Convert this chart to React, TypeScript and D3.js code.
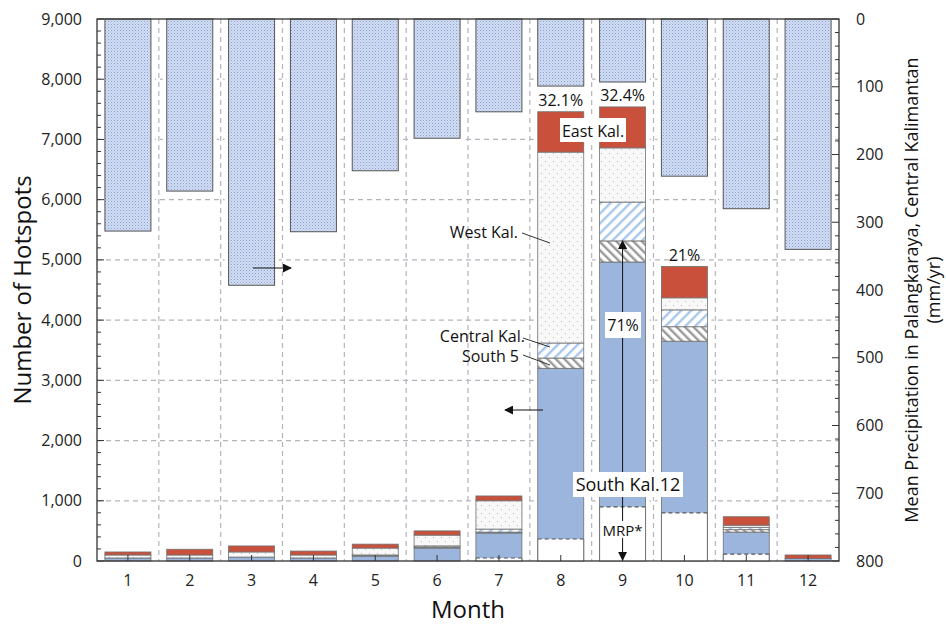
import React from "react";
import * as d3 from "d3";

const months = [1, 2, 3, 4, 5, 6, 7, 8, 9, 10, 11, 12];
const precipitation = [313, 254, 393, 314, 224, 176, 137, 99, 93, 232, 280, 340];
const southKal = [50, 50, 65, 50, 80, 215, 465, 3200, 4965, 3650, 480, 40];
const mrp = [0, 0, 0, 0, 0, 0, 50, 365, 900, 800, 115, 0];
const south5 = [0, 0, 0, 0, 10, 15, 15, 170, 350, 240, 40, 0];
const centralKal = [0, 0, 0, 0, 10, 20, 50, 250, 645, 280, 40, 0];
const westKal = [50, 50, 85, 50, 115, 180, 470, 3170, 900, 200, 35, 0];
const eastKal = [50, 95, 100, 65, 65, 70, 80, 670, 680, 520, 140, 60];
const leftTicks = [0, 1000, 2000, 3000, 4000, 5000, 6000, 7000, 8000, 9000];
const rightTicks = [0, 100, 200, 300, 400, 500, 600, 700, 800];
const pctLabels = [
  { month: 8, text: "32.1%" },
  { month: 9, text: "32.4%" },
  { month: 10, text: "21%" },
];

const W = 946, H = 626;
const L = 97, R = 839, T = 19, B = 561;
const FONT = "'Open Sans', sans-serif";

const keys = ["south", "south5", "central", "west", "east"];
const fills: Record<string, string> = {
  south: "#9bb5dd",
  south5: "url(#patS5)",
  central: "url(#patCen)",
  west: "url(#patWest)",
  east: "#c9503b",
};

export default function App() {
  const x = d3.scaleBand<number>().domain(months).range([L, R]).paddingInner(0.256).paddingOuter(0.128);
  const yH = d3.scaleLinear().domain([0, 9000]).range([B, T]);
  const yP = d3.scaleLinear().domain([0, 800]).range([T, B]);
  const rows = months.map((m, i) => ({
    month: m,
    south: southKal[i],
    south5: south5[i],
    central: centralKal[i],
    west: westKal[i],
    east: eastKal[i],
  }));
  const series = d3.stack<any>().keys(keys)(rows);
  const bw = x.bandwidth();
  const step = x.step();
  const cx = (m: number) => (x(m) as number) + bw / 2;
  const totals = months.map((_, i) => southKal[i] + south5[i] + centralKal[i] + westKal[i] + eastKal[i]);
  const halo = 4;

  const leftMinor = d3.range(0, 9001, 200);
  const rightMinor = d3.range(0, 801, 20);

  const x9 = cx(9);

  return (
    <svg width={W} height={H} style={{ position: "absolute", left: 0, top: 0, background: "#fff" }} fontFamily={FONT}>
      <defs>
        <pattern id="patPrec" width="3" height="3" patternUnits="userSpaceOnUse">
          <rect width="3" height="3" fill="#d3ddf2" />
          <rect x="0" y="0" width="1" height="1" fill="#869fd8" />
          <rect x="1.5" y="1.5" width="1" height="1" fill="#a2b7e4" />
        </pattern>
        <pattern id="patWest" width="8" height="8" patternUnits="userSpaceOnUse">
          <rect width="8" height="8" fill="#f8f8f8" />
          <rect x="1" y="1" width="1" height="1" fill="#b8b8b8" />
          <rect x="5" y="5" width="1" height="1" fill="#b8b8b8" />
        </pattern>
        <pattern id="patCen" width="7" height="7" patternUnits="userSpaceOnUse" patternTransform="rotate(45)">
          <rect width="7" height="7" fill="#ffffff" />
          <rect x="0" y="0" width="2.4" height="7" fill="#a8c7ea" />
        </pattern>
        <pattern id="patS5" width="6" height="6" patternUnits="userSpaceOnUse" patternTransform="rotate(-45)">
          <rect width="6" height="6" fill="#ffffff" />
          <rect x="0" y="0" width="2.4" height="6" fill="#9a9a9a" />
        </pattern>
        <marker id="arr" viewBox="0 0 10 10" refX="9" refY="5" markerWidth="9" markerHeight="9" markerUnits="userSpaceOnUse" orient="auto-start-reverse">
          <path d="M0,0 L10,5 L0,10 z" fill="#111" />
        </marker>
      </defs>

      {/* grid */}
      {leftTicks.filter((t) => t > 0 && t < 9000).map((t) => (
        <line key={"gh" + t} x1={L} x2={R} y1={yH(t)} y2={yH(t)} stroke="#b4b4bc" strokeDasharray="5,4" strokeWidth={1.2} />
      ))}
      {months.slice(1).map((m, i) => (
        <line key={"gv" + m} x1={L + step * (i + 1)} x2={L + step * (i + 1)} y1={T} y2={B} stroke="#b4b4bc" strokeDasharray="5,4" strokeWidth={1.2} />
      ))}

      {/* halos */}
      {months.map((m, i) => (
        <g key={"halo" + m}>
          <rect x={(x(m) as number) - halo} y={T} width={bw + 2 * halo} height={yP(precipitation[i]) - T + halo} fill="#fff" />
          <rect x={(x(m) as number) - halo} y={yH(totals[i]) - halo} width={bw + 2 * halo} height={B - yH(totals[i]) + halo} fill="#fff" />
        </g>
      ))}

      {/* precipitation bars */}
      {months.map((m, i) => (
        <rect key={"p" + m} x={x(m)} y={T} width={bw} height={yP(precipitation[i]) - T} fill="url(#patPrec)" stroke="#555" strokeWidth={1} />
      ))}

      {/* hotspot stacks */}
      {series.map((s) => (
        <g key={s.key}>
          {s.map((d, i) =>
            d[1] - d[0] > 0 ? (
              <rect key={i} x={x(months[i])} y={yH(d[1])} width={bw} height={yH(d[0]) - yH(d[1])} fill={fills[s.key]} stroke="#707070" strokeWidth={0.8} />
            ) : null
          )}
        </g>
      ))}
      {/* MRP portion */}
      {months.map((m, i) =>
        mrp[i] > 0 ? (
          <g key={"mrp" + m}>
            <rect x={(x(m) as number) + 0.5} y={yH(mrp[i])} width={bw - 1} height={yH(0) - yH(mrp[i])} fill="#fff" />
            <line x1={x(m)} x2={(x(m) as number) + bw} y1={yH(mrp[i])} y2={yH(mrp[i])} stroke="#555" strokeDasharray="4,3" strokeWidth={1.2} />
            <line x1={x(m)} x2={x(m)} y1={yH(mrp[i])} y2={B} stroke="#707070" strokeWidth={0.8} />
            <line x1={(x(m) as number) + bw} x2={(x(m) as number) + bw} y1={yH(mrp[i])} y2={B} stroke="#707070" strokeWidth={0.8} />
          </g>
        ) : null
      )}

      {/* frame */}
      <rect x={L} y={T} width={R - L} height={B - T} fill="none" stroke="#333" strokeWidth={1.3} />

      {/* left axis */}
      {leftMinor.map((t) => (
        <line key={"lt" + t} x1={L} x2={L + (t % 1000 === 0 ? 7 : 4)} y1={yH(t)} y2={yH(t)} stroke="#333" strokeWidth={1} />
      ))}
      {leftTicks.map((t) => (
        <text key={"ll" + t} x={82} y={yH(t)} dy="0.35em" textAnchor="end" fontSize={16} fill="#222">
          {d3.format(",")(t)}
        </text>
      ))}
      {/* right axis */}
      {rightMinor.map((t) => (
        <line key={"rt" + t} x1={R} x2={R - (t % 100 === 0 ? 7 : 4)} y1={yP(t)} y2={yP(t)} stroke="#333" strokeWidth={1} />
      ))}
      {rightTicks.map((t) => (
        <text key={"rl" + t} x={856} y={yP(t)} dy="0.35em" textAnchor="start" fontSize={16} fill="#222">
          {t}
        </text>
      ))}
      {/* bottom axis */}
      {months.map((m) => (
        <g key={"bt" + m}>
          <line x1={cx(m)} x2={cx(m)} y1={B} y2={B - 6} stroke="#333" strokeWidth={1} />
          <text x={cx(m)} y={586} textAnchor="middle" fontSize={16} fill="#222">
            {m}
          </text>
        </g>
      ))}

      {/* titles */}
      <text transform={`translate(31,${(T + B) / 2}) rotate(-90)`} textAnchor="middle" fontSize={24} fill="#111">
        Number of Hotspots
      </text>
      <text x={(L + R) / 2} y={618} textAnchor="middle" fontSize={24} fill="#111">
        Month
      </text>
      <text transform={`translate(918,${(T + B) / 2}) rotate(-90)`} textAnchor="middle" fontSize={18} fill="#111">
        Mean Precipitation in Palangkaraya, Central Kalimantan
      </text>
      <text transform={`translate(940,${(T + B) / 2}) rotate(-90)`} textAnchor="middle" fontSize={18} fill="#111">
        (mm/yr)
      </text>

      {/* percentage labels */}
      {pctLabels.map((p) => {
        const i = months.indexOf(p.month);
        return (
          <text key={"pct" + p.month} x={cx(p.month)} y={yH(totals[i]) - 6} textAnchor="middle" fontSize={16} fill="#111">
            {p.text}
          </text>
        );
      })}

      {/* East Kal. label */}
      <rect x={560} y={118} width={66} height={24} fill="#fff" />
      <text x={593} y={137} textAnchor="middle" fontSize={16} fill="#111">East Kal.</text>

      {/* West / Central / South 5 labels */}
      <text x={518} y={238} textAnchor="end" fontSize={16} fill="#111">West Kal.</text>
      <line x1={522} y1={233} x2={550} y2={243} stroke="#333" strokeWidth={1} />
      <text x={525} y={342} textAnchor="end" fontSize={16} fill="#111">Central Kal.</text>
      <line x1={523} y1={338} x2={550} y2={347} stroke="#333" strokeWidth={1} />
      <text x={519} y={362} textAnchor="end" fontSize={16} fill="#111">South 5</text>
      <line x1={523} y1={355} x2={550} y2={365} stroke="#333" strokeWidth={1} />

      {/* precipitation arrows */}
      <line x1={253} y1={268} x2={291} y2={268} stroke="#111" strokeWidth={1} markerEnd="url(#arr)" />
      <line x1={543} y1={410} x2={505} y2={410} stroke="#111" strokeWidth={1} markerEnd="url(#arr)" />

      {/* month 9 vertical arrow */}
      <line x1={x9} y1={yH(southKal[8] + south5[8])} x2={x9} y2={B - 1} stroke="#111" strokeWidth={1} markerStart="url(#arr)" markerEnd="url(#arr)" />
      <rect x={605} y={312} width={36} height={26} fill="#fff" />
      <text x={623} y={331} textAnchor="middle" fontSize={16} fill="#111">71%</text>
      <rect x={573} y={472} width={110} height={25} fill="#fff" />
      <text x={628} y={491} textAnchor="middle" fontSize={18} fill="#111">South Kal.12</text>
      <rect x={602} y={521} width={42} height={17} fill="#fff" />
      <text x={x9} y={536} textAnchor="middle" fontSize={15} fill="#111">MRP*</text>
    </svg>
  );
}
